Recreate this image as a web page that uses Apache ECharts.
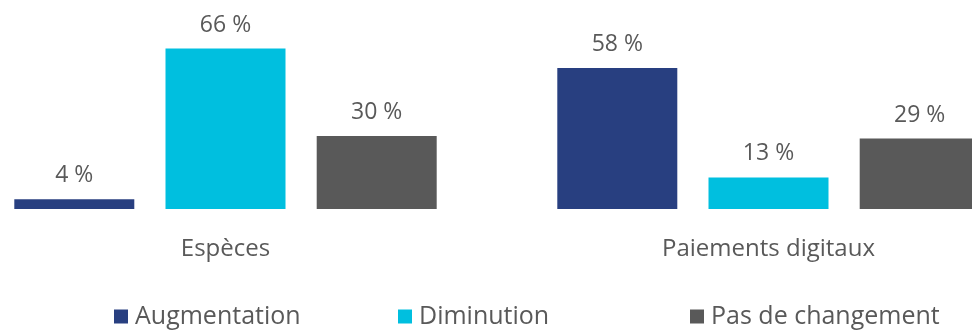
<!DOCTYPE html>
<html>
<head>
<meta charset="utf-8">
<script src="https://cdn.jsdelivr.net/npm/echarts@6/dist/echarts.min.js"></script>
<style>
  html, body { margin: 0; padding: 0; background: #fff; overflow: hidden; width: 972px; height: 330px; }
  /* the chart is wider than the page: the last bar is cut by the right edge */
  #chart { position: absolute; left: -46px; top: 0; width: 1140px; height: 330px; }
</style>
</head>
<body>
<div id="chart"></div>
<script>
const categories = ["Espèces", "Paiements digitaux"];
const seriesNames = ["Augmentation", "Diminution", "Pas de changement"];
const augmentation = [4, 58];
const diminution = [66, 13];
const pasDeChangement = [30, 29];

const COLORS = ["#283f80", "#00bfdf", "#595959"];
const FONT = "Open Sans";
const TEXT = "#595959";

const chart = echarts.init(document.getElementById("chart"));

function bar(name, data, color) {
  return {
    name, type: "bar", data, color,
    barWidth: 120, barGap: "26%",
    label: {
      show: true, position: "top", distance: 12,
      formatter: "{c} %", color: TEXT, fontFamily: FONT, fontSize: 23,
    },
  };
}

// one legend per item so each sits where the reference puts it (+46 page offset)
const legendAt = [160, 444, 736];
chart.setOption({
  animation: false,
  textStyle: { fontFamily: FONT },
  grid: { left: 0, width: 1086, top: 0, bottom: 121 },
  xAxis: {
    type: "category", data: categories,
    axisLine: { show: false }, axisTick: { show: false },
    axisLabel: { color: TEXT, fontSize: 24, margin: 28, fontFamily: FONT },
  },
  yAxis: { type: "value", min: 0, max: 86, show: false },
  legend: seriesNames.map((n, i) => ({
    data: [n], left: legendAt[i], top: 304,
    icon: "rect", itemWidth: 14, itemHeight: 14, itemGap: 0,
    textStyle: { color: TEXT, fontSize: 25, fontFamily: FONT, padding: [0, 0, 0, 2] },
    padding: 0,
  })),
  series: [
    bar(seriesNames[0], augmentation, COLORS[0]),
    bar(seriesNames[1], diminution, COLORS[1]),
    bar(seriesNames[2], pasDeChangement, COLORS[2]),
  ],
});
</script>
</body>
</html>
